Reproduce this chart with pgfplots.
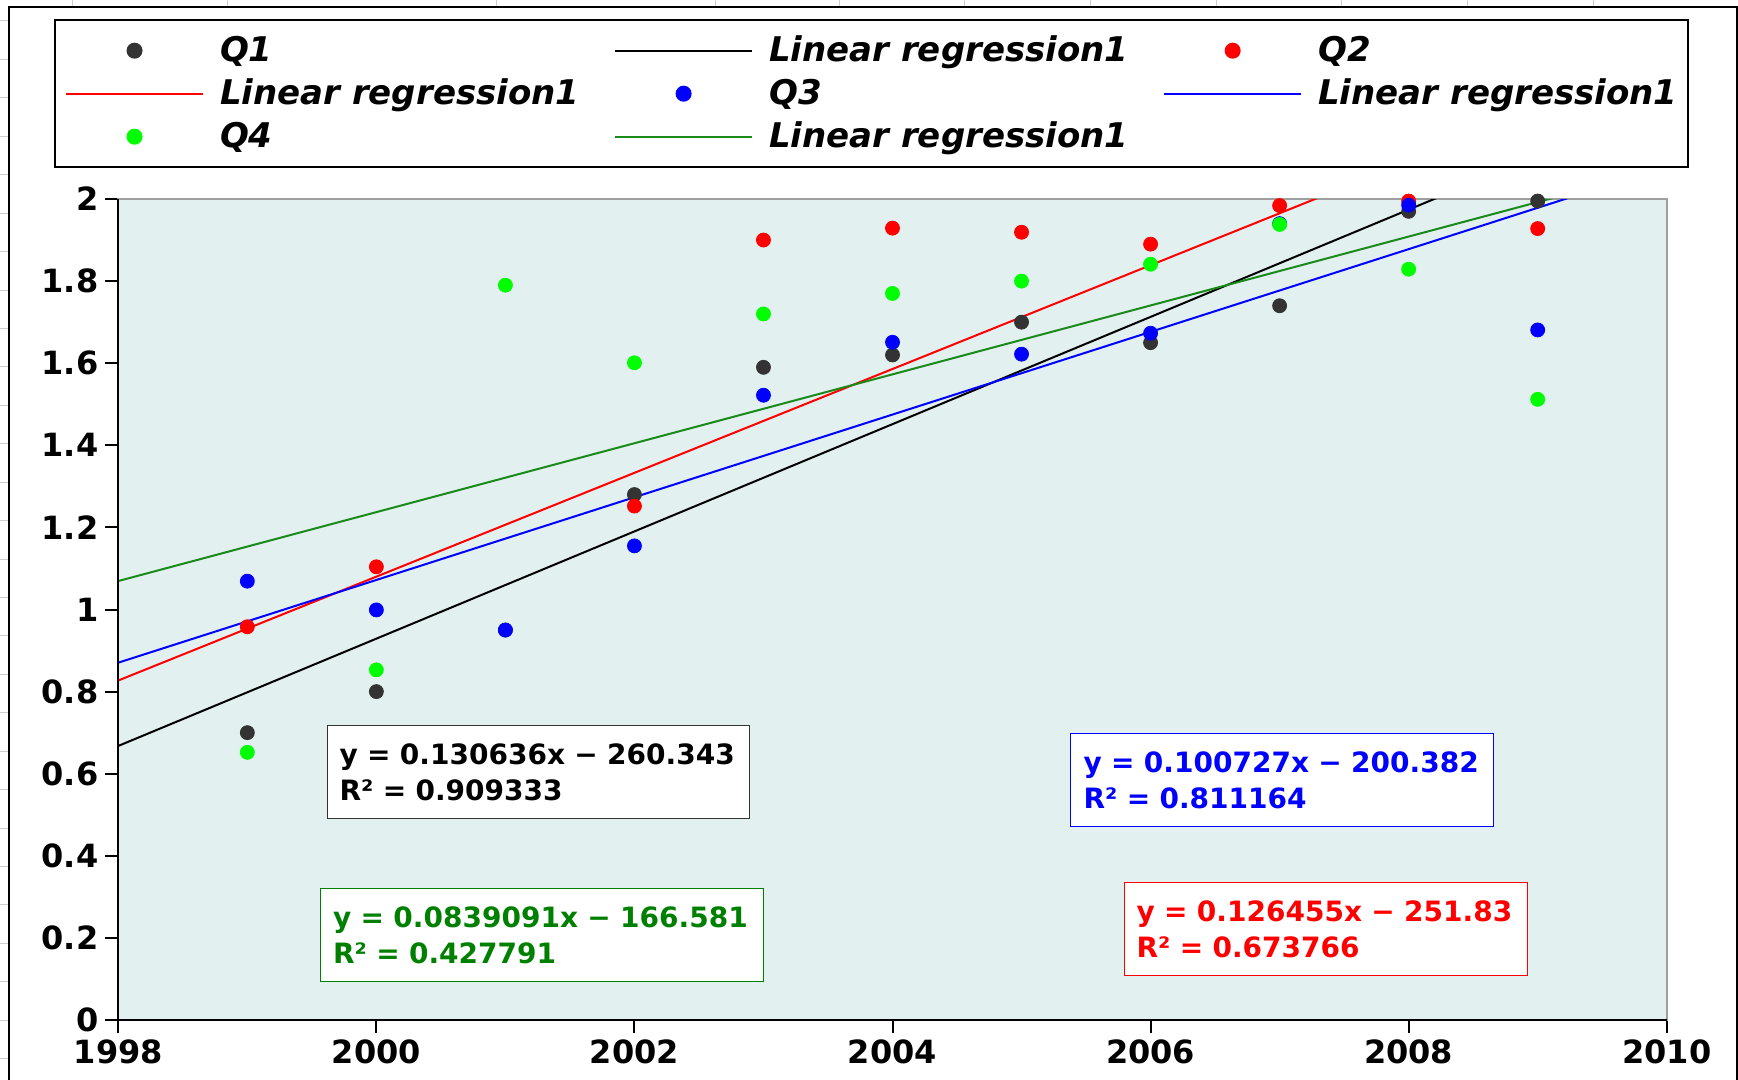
\documentclass[border=0pt]{standalone}
\usepackage{fontspec}
\setmainfont{DejaVu Sans}
\usepackage{pgfplots}
\pgfplotsset{compat=1.18}

\definecolor{qone}{HTML}{333333}
\definecolor{qtwo}{HTML}{FF0000}
\definecolor{qthree}{HTML}{0000FF}
\definecolor{qfour}{HTML}{00FF00}
\definecolor{fitgreen}{HTML}{1A8A1A}
\definecolor{eqgreen}{HTML}{008000}
\definecolor{plotbg}{RGB}{226,240,240}
\definecolor{sheetgrid}{RGB}{205,205,205}

\pgfplotsset{
  dotlegend/.style={legend image code/.code={%
      \path (0pt,0pt) (68.5pt,0pt);
      \draw[##1] plot coordinates {(34.25pt,0pt)};}},
  linelegend/.style={legend image code/.code={%
      \draw[##1] plot coordinates {(0pt,0pt) (68.5pt,0pt)};}},
  quarter/.style={only marks, mark=*, mark size=3.5pt, color=#1, dotlegend},
  fit/.style={no marks, line width=1pt, color=#1, linelegend},
}

\begin{document}
\begin{tikzpicture}
% page background, sheet grid and chart frame (1 unit = 1 px)
\begin{scope}[x=0.5pt,y=-0.5pt]
  \fill[white] (0,0) rectangle (1738,1080);
  \useasboundingbox (0,0) rectangle (1738,1080);
  \foreach \x in {72,227,496,715,839,964,1090,1216,1341,1467,1593}
    \draw[sheetgrid, line width=0.5pt] (\x,0) -- (\x,6.7);
  \foreach \k in {0,...,27}{
    \pgfmathsetmacro{\yy}{21+38.43*\k}
    \draw[sheetgrid, line width=0.5pt] (0,\yy) -- (9.3,\yy);
  }
  \draw[black, line width=1pt] (9.3,1080) -- (9.3,6.7) -- (1736.7,6.7) -- (1736.7,1080);
\end{scope}

\begin{axis}[
  at={(59.15pt,-510pt)}, anchor=south west,
  scale only axis, width=774.2pt, height=410.5pt,
  xmin=1998, xmax=2010, ymin=0, ymax=2,
  xtick={1998,2000,2002,2004,2006,2008,2010},
  ytick={0,0.2,0.4,0.6,0.8,1,1.2,1.4,1.6,1.8,2},
  tick pos=left, tick align=outside, major tick length=6.5pt,
  tick style={black, line width=1pt},
  axis line style={draw=gray!75, line width=1pt},
  axis background/.style={fill=plotbg},
  ticklabel style={font=\fontsize{16}{16}\selectfont\bfseries},
  /pgf/number format/assume math mode=true,
  /pgf/number format/1000 sep={},
  legend columns=3,
  legend cell align=left,
  legend style={at={(-0.0415,1.2189)}, anchor=north west,
    draw=black, line width=1pt, inner xsep=5pt, inner ysep=8pt,
    font=\fontsize{17}{17}\selectfont\bfseries\itshape,
    nodes={inner sep=0pt, text height=12.4pt, text depth=2pt},
    /tikz/every odd column/.append style={column sep=8pt},
    /tikz/every even column/.append style={column sep=17.3pt},
    row sep=7.1pt},
]
\addplot[quarter=qone] coordinates {
  (1999,0.70) (2000,0.80) (2001,0.95) (2002,1.28) (2003,1.59) (2004,1.62)
  (2005,1.70) (2006,1.65) (2007,1.74) (2008,1.97) (2009,1.995)};
\addlegendentry{Q1}
\addplot[fit=black] coordinates {(1998,0.6677) (2010,2.2354)};
\addlegendentry{Linear regression1}

\addplot[quarter=qtwo] coordinates {
  (1999,0.958) (2000,1.104) (2001,0.58) (2002,1.252) (2003,1.90) (2004,1.929)
  (2005,1.919) (2006,1.89) (2007,1.984) (2008,1.995) (2009,1.928)};
\addlegendentry{Q2}
\addplot[fit=qtwo] coordinates {(1998,0.8271) (2010,2.3446)};
\addlegendentry{Linear regression1}

\addplot[quarter=qthree] coordinates {
  (1999,1.069) (2000,0.999) (2001,0.95) (2002,1.155) (2003,1.522) (2004,1.651)
  (2005,1.622) (2006,1.673) (2007,1.94) (2008,1.985) (2009,1.681)};
\addlegendentry{Q3}
\addplot[fit=qthree] coordinates {(1998,0.8705) (2010,2.0793)};
\addlegendentry{Linear regression1}

\addplot[quarter=qfour] coordinates {
  (1999,0.652) (2000,0.853) (2001,1.79) (2002,1.601) (2003,1.72) (2004,1.77)
  (2005,1.80) (2006,1.841) (2007,1.938) (2008,1.829) (2009,1.512)};
\addlegendentry{Q4}
\addplot[fit=fitgreen] coordinates {(1998,1.0694) (2010,2.0763)};
\addlegendentry{Linear regression1}

\coordinate (pnw) at (rel axis cs:0,1);
\coordinate (psw) at (rel axis cs:0,0);
\coordinate (pse) at (rel axis cs:1,0);
\end{axis}
\draw[black, line width=1pt] (pnw) -- (psw) -- (pse);

% trend-line equation boxes (1 unit = 1 px)
\begin{scope}[x=0.5pt,y=-0.5pt,
  eqbox/.style={fill=white, line width=0.6pt, anchor=north west,
    inner ysep=0pt, minimum height=46.5pt, align=left,
    font=\fontsize{14}{18}\selectfont\bfseries}]
  \node[eqbox, draw=qone, text=black, inner xsep=6pt, text width=199pt]
    at (327,725) {y = 0.130636x − 260.343\\R² = 0.909333};
  \node[eqbox, draw=eqgreen, text=eqgreen, inner xsep=6.25pt, text width=209pt]
    at (320,888) {y = 0.0839091x − 166.581\\R² = 0.427791};
  \node[eqbox, draw=qthree, text=qthree, inner xsep=6.5pt, text width=198.5pt]
    at (1070,733) {y = 0.100727x − 200.382\\R² = 0.811164};
  \node[eqbox, draw=qtwo, text=qtwo, inner xsep=6pt, text width=189.5pt]
    at (1124,882) {y = 0.126455x − 251.83\\R² = 0.673766};
\end{scope}
\end{tikzpicture}
\end{document}
